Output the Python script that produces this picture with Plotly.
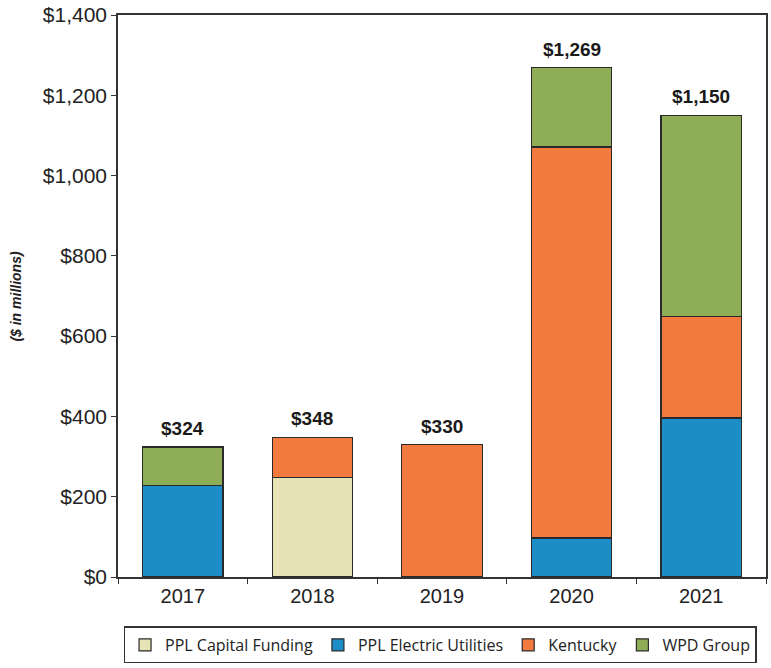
import plotly.graph_objects as go

years = ["2017", "2018", "2019", "2020", "2021"]
capital_funding = [None, 248, None, None, None]
electric_utilities = [227, None, None, 97, 396]
kentucky = [None, 100, 330, 974, 252]
wpd_group = [97, None, None, 198, 502]
totals = [324, 348, 330, 1269, 1150]
total_labels = ["$324", "$348", "$330", "$1,269", "$1,150"]
y_ticks = [0, 200, 400, 600, 800, 1000, 1200, 1400]
y_tick_labels = ["$0", "$200", "$400", "$600", "$800", "$1,000", "$1,200", "$1,400"]

series = [
    ("PPL Capital Funding", capital_funding, "#E6E3B6"),
    ("PPL Electric Utilities", electric_utilities, "#1C8DC6"),
    ("Kentucky", kentucky, "#F27A3E"),
    ("WPD Group", wpd_group, "#8FAD57"),
]

fig = go.Figure()
for name, vals, color in series:
    fig.add_trace(go.Bar(
        x=years, y=vals, name=name,
        marker=dict(color=color, line=dict(color="#2a2a2a", width=1.2)),
        width=0.62,
    ))

# total above each stacked bar (category axis: position by category index)
for idx, (tot, lbl) in enumerate(zip(totals, total_labels)):
    fig.add_annotation(
        x=idx, y=tot, xref="x", yref="y", text=f"<b>{lbl}</b>", showarrow=False,
        yanchor="bottom", yshift=6,
        font=dict(family="Liberation Sans, Arial", size=19, color="#1a1a1a"),
    )

# vertical axis caption
fig.add_annotation(
    x=-0.158, y=0.5, xref="paper", yref="paper", textangle=-90,
    text="<b><i>($ in millions)</i></b>", showarrow=False,
    xanchor="center", yanchor="middle",
    font=dict(family="Liberation Sans, Arial", size=14, color="#222"),
)

fig.update_layout(
    barmode="stack",
    width=771, height=668,
    margin=dict(l=118, r=3, t=15, b=91),
    paper_bgcolor="white", plot_bgcolor="white",
    font=dict(family="Liberation Sans, Arial", color="#222"),
    showlegend=True,
    legend=dict(
        orientation="h", x=0.497, xanchor="center", y=-0.088, yanchor="top",
        bordercolor="#333", borderwidth=1.5,
        font=dict(family="Open Sans, Liberation Sans", size=16, color="#222"),
        traceorder="normal", itemwidth=30,
    ),
    xaxis=dict(
        type="category", categoryorder="array", categoryarray=years,
        range=[-0.5, len(years) - 0.5],
        showline=True, linecolor="#333", linewidth=1.5, mirror=True,
        ticks="outside", tickson="boundaries", ticklen=5, tickcolor="#333",
        tickfont=dict(family="Liberation Sans, Arial", size=20, color="#222"),
        showgrid=False,
    ),
    yaxis=dict(
        range=[0, 1400], tickvals=y_ticks, ticktext=y_tick_labels,
        showline=True, linecolor="#333", linewidth=1.5, mirror=True,
        ticks="outside", ticklen=5, tickcolor="#333",
        tickfont=dict(family="Liberation Sans, Arial", size=21, color="#222"),
        showgrid=False, zeroline=False,
    ),
)

fig.write_html("out.html")
